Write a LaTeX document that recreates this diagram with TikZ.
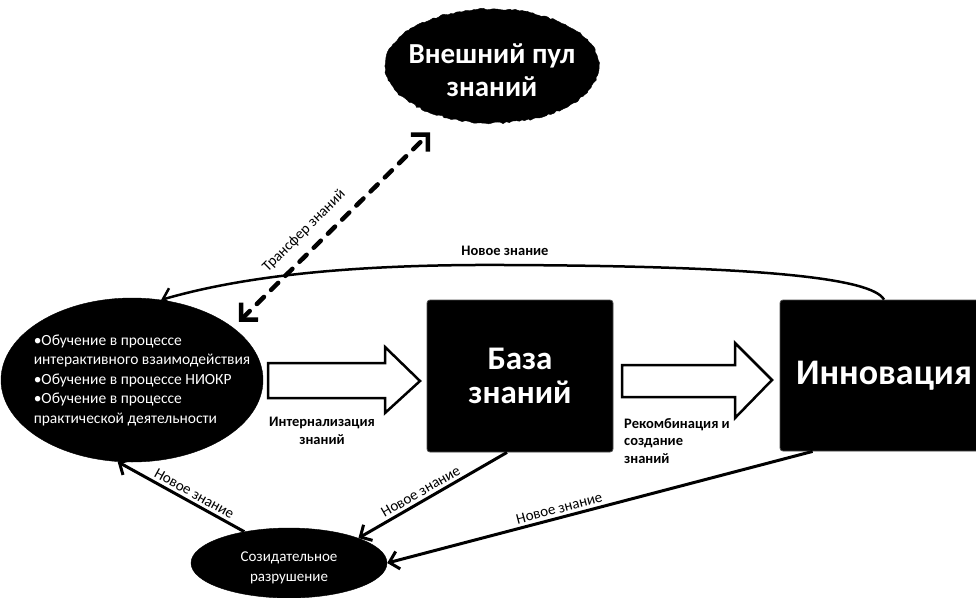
\documentclass[tikz,border=0pt]{standalone}
\usepackage{fontspec}
\setmainfont{Carlito}
\usetikzlibrary{arrows.meta,shapes.geometric,decorations.pathmorphing}
\begin{document}
\begin{tikzpicture}[x=1pt,y=-1pt,
  blob/.style={ellipse, fill=black, draw=black, inner sep=0pt},
  wtext/.style={text=white, align=center, inner sep=0pt},
  blk/.style={fill=black, draw=black!70, line width=0.8pt, rounded corners=3pt,
              text=white, align=center, inner sep=0pt},
  link/.style={line width=3pt, -{Straight Barb[length=9pt,width=18pt]}},
  revlink/.style={line width=3pt, {Straight Barb[length=9pt,width=18pt]}-},
  tag/.style={font=\fontsize{15}{17}\selectfont, inner sep=1pt},
  btag/.style={font=\bfseries\fontsize{14.5}{17.5}\selectfont, inner sep=0pt},
  hollow/.style={fill=white, draw=black, line width=2.5pt, line join=miter}
]
\useasboundingbox (0,0) rectangle (976,597);
\clip (0,0) rectangle (976,597);

% external knowledge pool (ragged outline)
\node[blob, minimum width=214, minimum height=114, decorate,
      decoration={random steps, segment length=3pt, amplitude=1pt}] (T) at (492,66) {};
\node[wtext, font=\bfseries\fontsize{29}{33}\selectfont] (Ttext) at (492,70) {Внешний пул\\знаний};

% learning ellipse
\node[blob, minimum width=262, minimum height=164] (L) at (132,380) {};
\node[text=white, align=left, inner sep=0pt, font=\fontsize{15.5}{19.5}\selectfont] (Ltext) at (142,380)
  {•Обучение в процессе\\интерактивного взаимодействия\\•Обучение в процессе НИОКР\\•Обучение в процессе\\практической деятельности};

% knowledge base and innovation
\node[blk, minimum width=186, minimum height=152, font=\bfseries\fontsize{33}{34}\selectfont] (B) at (520,376) {База\\знаний};
\node[blk, minimum width=208, minimum height=151, font=\bfseries\fontsize{36}{38}\selectfont] (I) at (884,375.5) {Инновация};

% creative destruction
\node[blob, minimum width=196, minimum height=70] (S) at (289,563) {};
\node[wtext, font=\fontsize{15}{19.5}\selectfont] (Stext) at (289,568) {Созидательное\\разрушение};

% hollow block arrows
\draw[hollow] (268,363) -- (385,363) -- (385,347) -- (420,381) -- (385,413) -- (385,398) -- (268,398) -- cycle;
\draw[hollow] (622,365) -- (735,365) -- (735,343) -- (772,380) -- (735,418) -- (735,397) -- (622,397) -- cycle;

\node[btag, align=center] (intl) at (322,431) {Интернализация\\знаний};
\node[btag, align=left, anchor=west] (recl) at (624,441) {Рекомбинация и\\создание\\знаний};

% new knowledge feedback along the top
\draw[link, line width=2.5pt] (I.north) .. controls (872,278) and (760,266) .. (505,265)
  node[btag, above=8pt] (topl) {Новое знание}
  .. controls (330,264) and (230,280) .. (L.70);

% knowledge transfer
\draw[line width=4.5pt, dash pattern=on 10pt off 10pt, line cap=round,
      {Straight Barb[length=12pt,width=24pt]}-{Straight Barb[length=12pt,width=24pt]}]
  ([shift={(14,0)}]L.north east) -- ([shift={(14,26)}]T.south west)
  node[tag, pos=0.41, sloped, above=9pt] (trl) {Трансфер знаний};

% new knowledge into creative destruction
\draw[revlink] (S.north east) -- ([xshift=-13]B.south)
  node[tag, pos=0.45, sloped, above=2pt] (nz1) {Новое знание};
\draw[revlink] (S.east) -- ([xshift=33]I.south west)
  node[tag, pos=0.41, sloped, above=2pt] (nz2) {Новое знание};
\draw[revlink] (L.260) -- (S.145)
  node[tag, pos=0.57, sloped, above=2pt] (nz3) {Новое знание};
\end{tikzpicture}
\end{document}
